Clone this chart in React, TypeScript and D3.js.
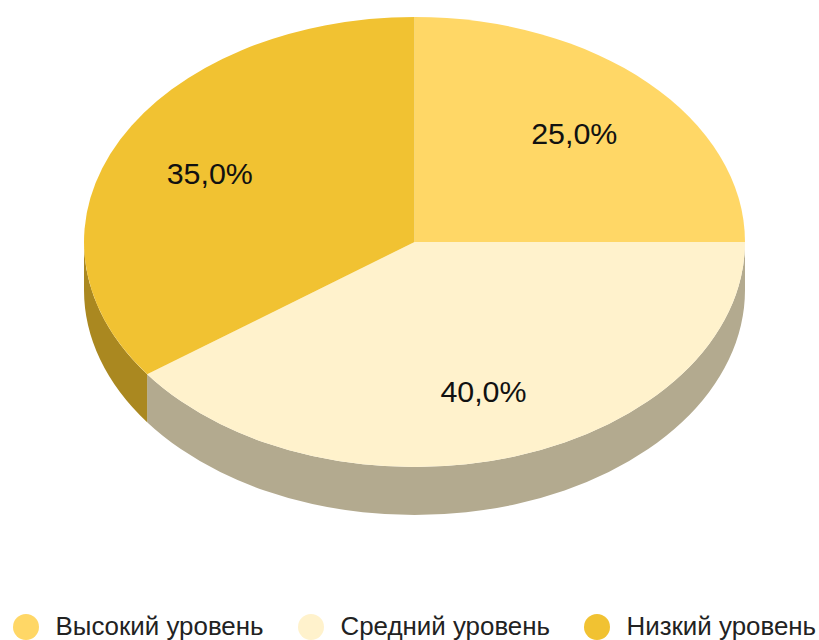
import React from "react";
import * as d3 from "d3";

const categories = ["Высокий уровень", "Средний уровень", "Низкий уровень"];
const values = [25, 40, 35];
const labels = ["25,0%", "40,0%", "35,0%"];
const topColors = ["#FFD766", "#FFF2CC", "#F1C232"];
const sideColors = ["#B3975A", "#B3AA8F", "#AA8820"];
const legendX = [26, 311, 597];

const cx = 414.5, cy = 242, rx = 330.5, ry = 225, depth = 48;
const W = 819, H = 640;

export default function App() {
  const pie = d3.pie<number>().sort(null).value((d) => d);
  const arcs = pie(values);
  const unit = d3.arc<any>().innerRadius(0).outerRadius(1);
  const pt = (a: number) => [cx + rx * Math.sin(a), cy - ry * Math.cos(a)];

  const slicePath = (s: number, e: number) => {
    const [x0, y0] = pt(s);
    const [x1, y1] = pt(e);
    const large = e - s > Math.PI ? 1 : 0;
    return `M${cx},${cy}L${x0},${y0}A${rx},${ry} 0 ${large} 1 ${x1},${y1}Z`;
  };
  const sidePath = (s: number, e: number) => {
    const a = Math.max(s, Math.PI / 2);
    const b = Math.min(e, (3 * Math.PI) / 2);
    if (b <= a) return null;
    const [x0, y0] = pt(a);
    const [x1, y1] = pt(b);
    return `M${x0},${y0}A${rx},${ry} 0 0 1 ${x1},${y1}L${x1},${y1 + depth}A${rx},${ry} 0 0 0 ${x0},${y0 + depth}Z`;
  };

  return (
    <svg
      width={W}
      height={H}
      style={{ position: "fixed", left: 0, top: 0 }}
      fontFamily="'Liberation Sans', Arial, sans-serif"
    >
      <rect width={W} height={H} fill="#fff" />
      {arcs.map((d, i) => {
        const p = sidePath(d.startAngle, d.endAngle);
        return p ? <path key={i} d={p} fill={sideColors[i]} /> : null;
      })}
      {arcs.map((d, i) => (
        <path key={i} d={slicePath(d.startAngle, d.endAngle)} fill={topColors[i]} />
      ))}
      {arcs.map((d, i) => {
        const [ux, uy] = unit.centroid(d);
        const k = 1.38;
        return (
          <text
            key={i}
            x={cx + rx * ux * k - 1.5}
            y={cy + ry * uy * k + 12}
            textAnchor="middle"
            fontSize={30.4}
            fill="#111"
          >
            {labels[i]}
          </text>
        );
      })}
      {categories.map((c, i) => (
        <g key={c}>
          <circle cx={legendX[i]} cy={627} r={13} fill={topColors[i]} />
          <text x={legendX[i] + 29.5} y={635} fontSize={25.9} fill="#222">
            {c}
          </text>
        </g>
      ))}
    </svg>
  );
}
